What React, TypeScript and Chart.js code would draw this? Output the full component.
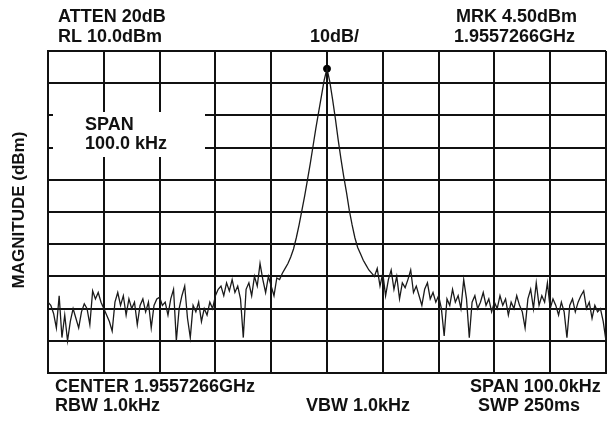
import React, { useEffect, useRef } from "react";
import { Chart, registerables } from "chart.js";

Chart.register(...registerables);

// Sweep: 201 points from -50 kHz to +50 kHz (offset from centre), 0.5 kHz apart
const SWEEP_START_KHZ = -50;
const SWEEP_STEP_KHZ = 0.5;

// Noise floor left of carrier: -50 .. -8.5 kHz
const leftNoiseDbm = [
  -68, -69, -71.5, -76, -66, -79, -72, -80, -74, -70, -73, -76, -71, -68.5, -70, -75, -64.5, -67, -65, -68, -70,
  -72, -74, -77, -68, -65, -69, -66, -72, -67, -70, -68, -75, -69, -67, -71, -68, -76, -69, -67, -66.5,
  -69, -68, -72, -67, -64, -80, -70, -66, -63, -73, -79, -69, -71, -68, -74, -70, -72, -68, -70, -66,
  -64, -63, -66, -62, -64.5, -61, -65, -63, -67, -79, -64, -62, -66, -60, -63, -56, -61, -65, -60, -63, -66, -60.5, -61,
];

// Carrier response: -8 .. +8 kHz
const carrierDbm = [
  -59, -57.5, -56, -54, -51.5, -48, -44, -39.5, -35, -30, -25, -19.5, -14, -9, -4, 1,
  4.5,
  0.5, -5, -11, -17.5, -23.5, -29, -34, -39.5, -44, -48, -51, -53, -55, -56.5, -58, -59,
];

// Noise floor right of carrier: +8.5 .. +50 kHz
const rightNoiseDbm = [
  -60, -57.5, -63, -59, -66, -61, -58, -64, -60, -67, -62, -63.5, -61, -58, -65, -63, -66, -69, -64, -62, -67, -65, -68,
  -66, -70, -78.5, -67, -69, -64, -68, -66, -70, -61, -67, -79, -68, -66, -70, -68, -65, -69, -67, -71, -68, -70,
  -66, -69, -67, -72, -68, -70, -66, -69, -71, -76, -67, -64, -70, -62, -69, -66, -68, -62, -70, -67, -69, -72,
  -68, -71, -79, -69, -67, -71, -68, -66, -64.5, -70, -68, -73, -69, -71, -70, -74, -80,
];

const traceDbm = [...leftNoiseDbm, ...carrierDbm, ...rightNoiseDbm];

// Marker
const markerKhz = [0];
const markerDbm = [4.5];

// Axes: reference level 10 dBm, 10 dB/div, 10 divisions; span 100 kHz
const Y_MIN = -90;
const Y_MAX = 10;
const Y_STEP = 10;
const X_MIN = -50;
const X_MAX = 50;
const X_STEP = 10;

const topLeftLines = ["ATTEN 20dB", "RL 10.0dBm"];
const topCenterLine = "10dB/";
const topRightLines = ["MRK 4.50dBm", "1.9557266GHz"];
const bottomLeftLines = ["CENTER 1.9557266GHz", "RBW 1.0kHz"];
const bottomCenterLine = "VBW 1.0kHz";
const bottomRightLines = ["SPAN 100.0kHz", "SWP 250ms"];
const spanBoxLines = ["SPAN", "100.0 kHz"];
const yTitle = "MAGNITUDE (dBm)";

const FONT = "bold 18px 'Liberation Sans', Arial, sans-serif";
const TITLE_FONT = "bold 17px 'Liberation Sans', Arial, sans-serif";

export default function App() {
  const ref = useRef<HTMLCanvasElement | null>(null);

  useEffect(() => {
    const canvas = ref.current;
    if (!canvas) return;
    const points = traceDbm.map((v, i) => ({ x: SWEEP_START_KHZ + i * SWEEP_STEP_KHZ, y: v }));
    const marker = markerKhz.map((x, i) => ({ x, y: markerDbm[i] }));

    const annot = {
      id: "annot",
      beforeDatasetsDraw(chart: any) {
        const ctx = chart.ctx;
        const a = chart.chartArea;
        ctx.save();
        ctx.fillStyle = "#ffffff";
        ctx.fillRect(a.left + 5, a.top + 61, 152, 45);
        ctx.fillStyle = "#111";
        ctx.font = FONT;
        ctx.textBaseline = "alphabetic";
        ctx.textAlign = "left";
        ctx.fillText(spanBoxLines[0], a.left + 37, a.top + 78.5);
        ctx.fillText(spanBoxLines[1], a.left + 37, a.top + 97.5);
        ctx.restore();
      },
      afterDraw(chart: any) {
        const ctx = chart.ctx;
        ctx.save();
        ctx.fillStyle = "#111";
        ctx.font = FONT;
        ctx.textBaseline = "alphabetic";
        ctx.textAlign = "left";
        ctx.fillText(topLeftLines[0], 58, 22);
        ctx.fillText(topLeftLines[1], 58, 42);
        ctx.fillText(topCenterLine, 310, 42);
        ctx.fillText(topRightLines[0], 456, 22);
        ctx.fillText(topRightLines[1], 454, 42);
        ctx.fillText(bottomLeftLines[0], 55, 392);
        ctx.fillText(bottomLeftLines[1], 55, 411);
        ctx.fillText(bottomCenterLine, 306, 411);
        ctx.fillText(bottomRightLines[0], 470, 392);
        ctx.fillText(bottomRightLines[1], 478, 411);
        ctx.font = TITLE_FONT;
        ctx.translate(19, 210);
        ctx.rotate(-Math.PI / 2);
        ctx.textAlign = "center";
        ctx.textBaseline = "middle";
        ctx.fillText(yTitle, 0, 0);
        ctx.restore();
      },
    };

    const chart = new Chart(canvas, {
      type: "line",
      data: {
        datasets: [
          {
            data: points,
            borderColor: "#1a1a1a",
            borderWidth: 1.3,
            pointRadius: 0,
            tension: 0,
          },
          {
            data: marker,
            showLine: false,
            pointRadius: 3.5,
            pointBackgroundColor: "#000",
            pointBorderColor: "#000",
          },
        ],
      },
      options: {
        responsive: false,
        animation: false,
        layout: { padding: { left: 48, top: 51, right: 10, bottom: 48 } },
        plugins: { legend: { display: false }, tooltip: { enabled: false } },
        scales: {
          x: {
            type: "linear",
            min: X_MIN,
            max: X_MAX,
            ticks: { display: false, stepSize: X_STEP },
            grid: { color: "#111", lineWidth: 2, drawTicks: false },
            border: { display: true, color: "#111", width: 2 },
          },
          y: {
            type: "linear",
            min: Y_MIN,
            max: Y_MAX,
            ticks: { display: false, stepSize: Y_STEP },
            grid: { color: "#111", lineWidth: 2, drawTicks: false },
            border: { display: true, color: "#111", width: 2 },
          },
        },
      },
      plugins: [annot],
    });
    return () => chart.destroy();
  }, []);

  return (
    <div style={{ position: "absolute", left: 0, top: 0, width: 616, height: 421, background: "#fff" }}>
      <canvas ref={ref} width={616} height={421} />
    </div>
  );
}
